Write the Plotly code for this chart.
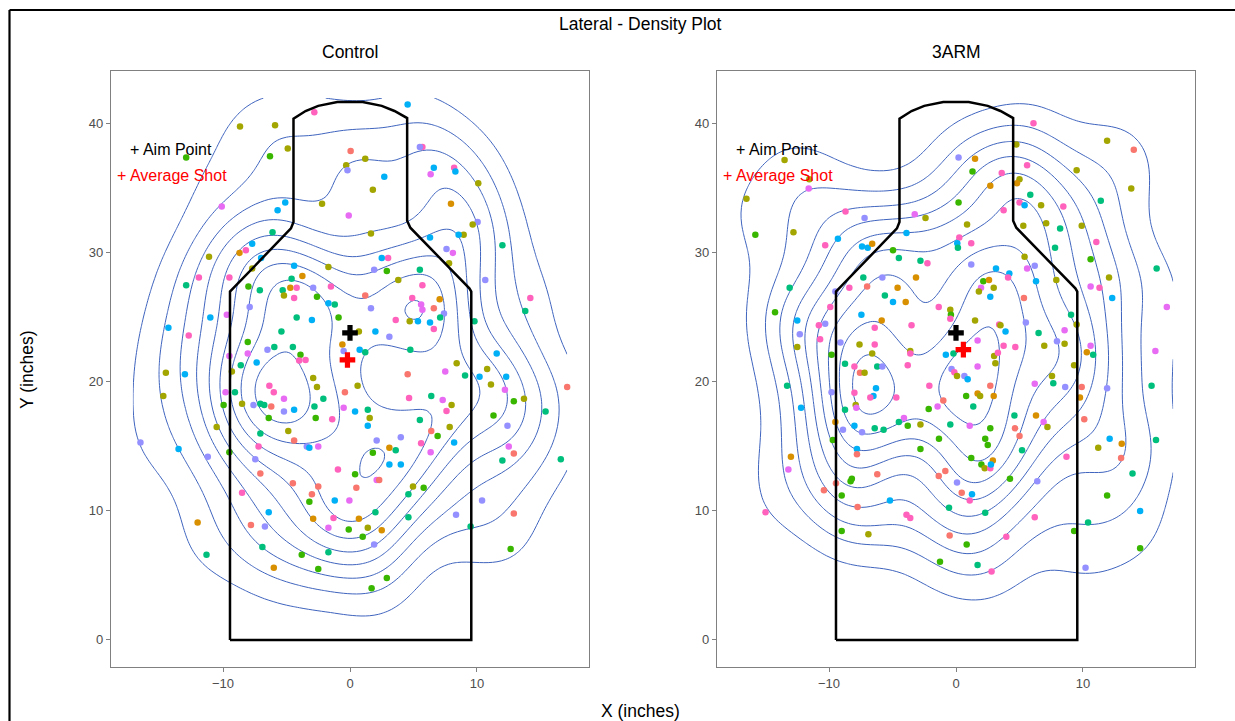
import numpy as np
import plotly.graph_objects as go

# ---------------- data ----------------
# colour codes per shot (shooter): s salmon, o orange, v olive, g green, t teal,
# c cyan, l lavender, p purple, k pink
ctrl_x = [
    4.54, -2.81, -8.66, -5.9, -4.9, -6.3, -12.9, 0.05, 5.7, 5.5,
    -0.3, -0.2, 1.2, 2.7, 1.8, 6.6, 8.2, 8.3, 6.35, 10.1,
    7.95, -2.2, -0.1, -5.1, -5.7, -10.1, -6.1, 10.05, 9.66, 8.95,
    8.55, 12.0, 6.3, 1.65, -11.1, -8.7, -8.2, -7.7, -11.9, -9.5,
    -7.0, -7.7, -12.9, -8.0, -7.1, -4.4, -4.6, -3.75, -4.7, -4.2,
    -5.3, -5.2, -4.4, -2.9, -2.6, -1.7, -1.5, 2.5, 3.0, 2.9,
    1.9, 3.8, 5.5, 5.7, 4.9, 1.2, 1.65, 5.6, 5.7, 7.06,
    6.6, 7.6, 8.1, 7.8, 7.4, 7.1, 6.3, 6.6, 5.35, 4.7,
    3.6, 3.1, 2.0, 0.7, 10.65, 14.2, 13.8, 9.8, 11.55, -14.3,
    -12.7, -11.0, -9.7, -7.9, -4.2, -3.0, -5.4, -1.7, -1.2, -0.9,
    -8.05, -0.6, 0.76, 1.2, 4.75, -5.96, -4.5, -3.9, -6.5, -9.5,
    -8.05, -8.6, -4.0, -3.5, -7.35, -0.5, -14.5, -13.0, -14.7, -9.3,
    -9.8, -9.06, -9.95, -8.5, -7.6, -7.06, -6.75, -6.2, -6.35, -6.0,
    -5.2, -5.2, -4.4, -6.4, -2.9, -2.6, -2.1, -2.8, -2.7, -0.4,
    -0.5, -1.4, 0.4, 0.6, 1.4, 1.55, 1.4, -4.86, -7.06, -4.4,
    -10.5, -9.5, -7.2, -3.4, -3.2, -2.5, -7.46, -16.5, -13.5, -11.2,
    -7.06, -8.5, -4.5, -3.0, -2.5, -3.2, -6.4, -7.8, -6.7, -12.0,
    -11.3, -6.9, -6.0, -3.8, -2.5, -1.7, -2.9, -1.7, -1.3, -0.95,
    0.4, 0.5, -1.2, -0.05, -0.1, 0.7, 1.4, 1.0, 2.0, 2.5,
    1.9, 2.9, 1.7, 2.1, 2.3, 2.1, 1.8, 3.1, 3.6, 3.1,
    4.0, 4.0, 4.96, 4.6, 5.8, 4.6, 5.6, 6.35, 6.4, 6.9,
    8.2, 7.85, 5.5, 6.4, 7.3, 7.6, 8.0, 4.65, 4.54, 7.5,
    8.4, 9.06, 10.2, 10.8, 12.3, 11.1, 12.2, 12.9, 13.7, 11.3,
    15.4, 17.1, 12.4, 12.5, 12.9, 12.0, 16.6, 10.4, 8.35, 12.9,
    9.5, 12.65,
]
ctrl_y = [
    41.5, 40.9, 39.8, 39.9, 38.1, 37.5, 37.4, 37.9, 38.2, 38.2,
    36.8, 36.4, 37.3, 35.9, 34.9, 36.6, 36.6, 36.3, 36.1, 35.4,
    33.8, 33.8, 32.9, 33.9, 33.3, 33.6, 31.6, 32.4, 32.2, 31.4,
    31.4, 30.6, 31.2, 31.5, 29.7, 30.0, 30.2, 30.7, 28.1, 28.1,
    29.6, 28.8, 27.5, 27.4, 27.1, 29.0, 28.0, 28.2, 27.3, 27.3,
    27.1, 26.7, 26.5, 27.3, 26.6, 28.9, 27.4, 29.6, 29.6, 28.6,
    28.7, 27.9, 28.7, 27.5, 26.5, 26.7, 25.7, 26.0, 25.6, 26.4,
    25.7, 30.3, 30.0, 29.2, 25.3, 25.0, 24.6, 24.1, 24.7, 24.7,
    24.8, 23.5, 23.9, 23.9, 27.9, 26.5, 25.5, 24.7, 22.2, 24.2,
    23.6, 25.0, 25.2, 25.8, 25.0, 24.8, 23.9, 26.1, 26.0, 25.0,
    23.1, 22.9, 22.5, 22.3, 22.5, 22.7, 22.7, 22.1, 22.5, 22.0,
    22.2, 21.3, 21.65, 21.7, 21.5, 22.4, 20.7, 20.6, 18.9, 20.8,
    19.2, 19.2, 18.2, 18.3, 18.2, 18.3, 18.2, 18.1, 19.7, 19.2,
    18.7, 17.7, 17.85, 17.2, 20.3, 19.6, 18.7, 18.1, 17.2, 19.2,
    18.0, 17.1, 17.7, 19.7, 17.85, 17.2, 16.6, 16.2, 16.0, 15.45,
    16.5, 14.55, 15.0, 15.0, 14.9, 15.0, 14.0, 15.3, 14.8, 14.2,
    12.9, 11.4, 12.15, 11.3, 11.9, 10.7, 9.9, 8.9, 8.8, 9.1,
    6.6, 7.2, 5.6, 6.6, 5.5, 6.8, 9.4, 8.7, 9.45, 13.2,
    12.85, 11.8, 10.8, 10.8, 8.55, 9.4, 8.7, 8.0, 9.9, 8.5,
    7.4, 4.8, 4.0, 12.4, 12.4, 15.45, 14.5, 14.9, 14.7, 13.6,
    13.6, 15.7, 11.9, 11.3, 11.8, 9.5, 15.25, 14.55, 16.2, 15.8,
    15.3, 16.5, 17.05, 18.9, 18.6, 17.75, 18.2, 18.75, 20.6, 20.8,
    21.45, 20.5, 20.4, 21.0, 20.4, 19.8, 19.4, 18.5, 18.7, 17.4,
    17.7, 19.6, 16.6, 15.0, 14.45, 13.9, 14.0, 10.8, 9.7, 9.8,
    8.8, 7.05,
]
ctrl_grp = (
    "ckvvvggskl" "vlvcvckcpv" "ovpccptlvv" "ctcvvokckk" "cvtgtctook"
    "tvklgvkckg" "lvtkkslppo" "slpvltckcv" "klcvlkttcc" "kcpltctctg"
    "gocttttglp" "ptkkclvcvv" "ptgvlttskk" "plcgvvttgs" "pkcvtvcvts"
    "vgklcpllcl" "sksssgcslo" "ttoggtopkk" "gscpgovgto" "lggpslgotc"
    "clvtgtkpsg" "cvttpkvksp" "vtcvcvpgvg" "tslpsttlls" "tg"
)

arm_x = [
    6.1, 11.9, 14.0, 4.75, 0.2, 1.5, 5.6, 1.3, 3.6, 9.5,
    13.8, 5.0, 4.8, 2.7, 5.85, 5.0, 5.4, 6.7, 8.45, 11.4,
    0.2, 3.75, -3.25, -2.4, -8.7, -7.2, -11.55, -11.6, -13.5, -16.5,
    -15.8, -12.8, 5.3, 7.1, 8.2, 9.9, 11.05, 7.8, 10.6, 15.8,
    0.87, 0.26, 1.2, 0.1, 0.15, -3.9, -9.3, -10.3, -7.4, -6.95,
    -6.6, -4.96, -4.5, -2.8, -2.25, 5.4, 1.2, 3.15, 4.2, 4.1,
    5.6, 6.2, 6.3, 7.9, 12.05, 10.6, 11.3, 12.3, 16.6, 2.15,
    2.6, 2.97, 1.97, 1.8, 2.7, 5.35, -5.8, -3.15, -7.3, -7.0,
    -4.6, -8.4, -9.5, -13.1, -5.6, -4.96, -3.96, -1.36, -0.45, -0.4,
    -0.45, 1.5, -9.9, -14.25, -12.5, -10.8, -10.3, -12.3, -10.7, -9.1,
    -12.5, -7.45, -5.85, -6.4, -3.5, -7.6, -6.4, -3.6, 3.4, 3.5,
    3.9, 5.5, 6.5, 8.55, 9.06, 9.5, 7.95, 8.55, 6.95, 10.6,
    10.3, 10.8, 15.7, 1.7, 3.75, -0.8, -0.2, 3.0, -6.6, -9.8,
    3.1, -3.8, -8.74, -8.0, -7.56, -7.2, -6.2, -5.8, -0.35, -0.13,
    0.08, 0.66, 0.92, 1.7, -13.3, -12.2, -9.8, -8.0, -6.3, -6.5,
    -6.75, -7.9, -7.85, -8.74, -4.7, -2.1, -1.0, -1.45, -2.15, 0.8,
    1.7, 1.9, 1.36, 2.7, 2.97, 6.2, 7.56, 7.66, 8.6, 9.9,
    9.76, 11.9, 15.4, -9.5, -9.7, -8.9, -8.0, -7.4, -6.4, -5.7,
    -4.1, -4.5, -3.8, -2.8, -1.34, -2.8, -0.45, 1.08, 2.7, 2.3,
    2.5, 4.6, 4.65, 5.0, 5.2, 6.3, 6.9, 7.2, 9.3, 10.1,
    12.1, 11.2, 13.05, 13.0, 15.75, 8.7, 6.4, 4.25, 13.9, 11.9,
    14.5, 14.5, 10.4, 10.2, 9.3, 6.2, 3.96, 2.3, 0.84, -1.26,
    1.7, 2.8, -0.5, -0.55, 1.08, 1.26, 0.45, 0.08, -0.84, -1.36,
    1.2, 2.0, 2.26, 2.7, 2.9, 2.75, -3.9, -3.6, -5.2, -6.2,
    -7.75, -8.2, -8.3, -9.45, -10.4, -9.0, -9.0, -6.9, -13.0, -13.2,
    -15.0, -7.8, -7.8, 4.67, 3.3, -3.6,
]
arm_y = [
    40.05, 38.7, 38.0, 38.4, 37.4, 37.3, 36.8, 36.3, 36.2, 36.4,
    35.0, 35.7, 35.4, 35.2, 34.5, 33.9, 33.7, 33.7, 33.6, 34.05,
    33.9, 33.3, 33.0, 32.7, 33.2, 32.7, 35.7, 35.0, 37.2, 34.2,
    31.4, 31.6, 32.1, 32.3, 31.9, 32.1, 30.85, 30.4, 29.5, 28.8,
    32.2, 31.2, 30.75, 30.75, 30.4, 31.55, 31.1, 30.6, 30.5, 30.4,
    30.7, 30.2, 29.6, 29.4, 29.2, 29.7, 29.1, 28.8, 28.4, 28.1,
    28.8, 29.0, 27.8, 27.9, 28.1, 27.4, 27.3, 26.5, 25.8, 27.8,
    27.9, 27.3, 27.3, 27.0, 26.6, 26.5, 28.1, 28.1, 28.1, 27.4,
    27.3, 27.3, 27.0, 27.3, 26.7, 26.2, 26.2, 25.8, 25.6, 25.2,
    24.9, 24.75, 25.8, 25.4, 24.75, 24.4, 24.5, 23.7, 23.3, 23.05,
    22.7, 25.2, 24.75, 24.2, 24.4, 22.9, 22.9, 22.4, 24.45, 24.4,
    23.9, 24.6, 23.8, 24.0, 25.2, 24.45, 23.15, 22.95, 22.8, 22.8,
    22.3, 22.1, 22.4, 23.2, 22.8, 22.1, 22.2, 22.0, 22.2, 22.1,
    21.45, 21.3, 21.4, 21.2, 20.7, 20.7, 21.2, 21.2, 21.0, 20.75,
    20.45, 20.45, 20.2, 21.2, 19.7, 18.0, 19.2, 19.15, 19.5, 18.9,
    18.8, 18.2, 18.0, 17.85, 18.8, 19.7, 18.55, 18.1, 17.9, 18.9,
    19.1, 18.9, 18.1, 19.7, 18.9, 19.85, 20.45, 19.9, 19.6, 19.6,
    18.8, 19.5, 19.7, 16.9, 15.5, 16.3, 16.6, 16.1, 16.4, 16.3,
    17.2, 16.9, 16.6, 16.7, 15.6, 14.8, 16.7, 16.6, 16.4, 15.6,
    15.1, 17.4, 16.4, 15.8, 14.7, 17.4, 16.9, 16.5, 21.3, 17.1,
    15.6, 14.9, 15.2, 14.1, 15.5, 14.2, 12.3, 12.5, 12.9, 11.2,
    10.0, 7.1, 9.1, 5.6, 8.45, 9.5, 8.0, 9.85, 7.4, 6.05,
    5.8, 5.3, 8.1, 10.25, 10.8, 11.3, 11.4, 12.2, 13.1, 12.7,
    14.1, 13.6, 13.3, 13.3, 13.9, 13.6, 9.7, 9.45, 10.8, 12.85,
    10.3, 12.5, 12.3, 12.15, 11.6, 11.2, 8.45, 8.2, 14.2, 13.2,
    9.9, 14.8, 14.4, 22.7, 22.25, 22.2,
]
arm_grp = (
    "kvsvlokgkv" "vvootkcvkt" "gkpvklvpvv" "gvvvtvktgt" "vkkctcckcc"
    "ogttkvlcck" "plcvvpkcpg" "ovpvcslots" "oklttcokvg" "kvkgckllkl"
    "vcokkvkvkv" "cltptvlvvp" "otppkctvvg" "vktksvtllk" "vlcptclkcc"
    "kvptkkspgg" "ovtsopvtls" "oltoglcltt" "ptgvggtpgg" "gtsstopvvs"
    "cvostklgtg" "cgtlgkktgg" "tkstkcslss" "ggvkockkcs" "sggssggvop"
    "kcskkk"
)

panels = ["Control", "3ARM"]
aim_point = (0.0, 23.8)
avg_shot = {"Control": (-0.2, 21.7), "3ARM": (0.58, 22.5)}

# target silhouette outline (inches)
sil_x = [-9.45, -9.45, -9.15, -4.65, -4.45, -4.45, -3.5, -2.5, -1.0, 1.0, 2.5, 3.5,
         4.5, 4.5, 4.75, 9.4, 9.55, 9.55, -9.45]
sil_y = [0.0, 27.0, 27.3, 31.9, 32.4, 40.4, 41.0, 41.4, 41.7, 41.7, 41.4, 41.0,
         40.45, 32.5, 31.95, 27.25, 27.0, 0.0, 0.0]

x_ticks = [-10, 0, 10]
y_ticks = [0, 10, 20, 30, 40]

# ---------------- style ----------------
palette = {"s": "#F8766D", "o": "#D89000", "v": "#A3A500", "g": "#39B600",
           "t": "#00BF7D", "c": "#00B0F6", "l": "#9590FF", "p": "#E76BF3",
           "k": "#FF62BC"}
CONTOUR_COLOR = "#3F64BE"
FONT = "Liberation Sans, Arial, sans-serif"
W, H = 1235, 721
ML, MR, MT, MB = 111, 40, 71, 54
PW, PH = W - ML - MR, H - MT - MB


def px2paper(px, py):
    return (px - ML) / PW, 1 - (py - MT) / PH


# ---------------- density (like stat_density_2d) ----------------
def bw_nrd(v):
    q1, q3 = np.percentile(v, [25, 75])
    return 4 * 1.06 * min(np.std(v, ddof=1), (q3 - q1) / 1.34) * len(v) ** (-0.2)


def kde2d(x, y, lims, n=100):
    x = np.asarray(x, float)
    y = np.asarray(y, float)
    gx = np.linspace(lims[0], lims[1], n)
    gy = np.linspace(lims[2], lims[3], n)
    hx, hy = bw_nrd(x) / 4, bw_nrd(y) / 4
    kx = np.exp(-0.5 * ((gx[:, None] - x[None, :]) / hx) ** 2) / np.sqrt(2 * np.pi)
    ky = np.exp(-0.5 * ((gy[:, None] - y[None, :]) / hy) ** 2) / np.sqrt(2 * np.pi)
    z = kx @ ky.T / (len(x) * hx * hy)
    return gx, gy, z.T


def pretty_unit(lo, hi, n=10):
    cell = (hi - lo) / n
    U = 10 ** np.floor(np.log10(cell))
    unit = U
    if 2 * U - cell < 1.5 * (cell - unit):
        unit = 2 * U
        if 5 * U - cell < 2.75 * (cell - unit):
            unit = 5 * U
            if 10 * U - cell < 1.5 * (cell - unit):
                unit = 10 * U
    return unit


lims = (-17.1, 17.1, 0.0, 42.0)
dens = {"Control": kde2d(ctrl_x, ctrl_y, lims), "3ARM": kde2d(arm_x, arm_y, lims)}
zmin = min(d[2].min() for d in dens.values())
zmax = max(d[2].max() for d in dens.values())
unit = pretty_unit(zmin, zmax)
lev_end = np.floor(zmax / unit) * unit

fig = go.Figure()
data_sets = {"Control": (ctrl_x, ctrl_y, ctrl_grp), "3ARM": (arm_x, arm_y, arm_grp)}
for i, name in enumerate(panels):
    xa = "x" if i == 0 else "x2"
    ya = "y" if i == 0 else "y2"
    gx, gy, z = dens[name]
    fig.add_trace(go.Contour(
        x=gx, y=gy, z=z, xaxis=xa, yaxis=ya, autocontour=False,
        contours=dict(start=unit, end=lev_end, size=unit, coloring="lines"),
        line=dict(width=1), colorscale=[[0, CONTOUR_COLOR], [1, CONTOUR_COLOR]],
        showscale=False, hoverinfo="skip"))
    px_, py_, grp = data_sets[name]
    fig.add_trace(go.Scatter(
        x=px_, y=py_, mode="markers", xaxis=xa, yaxis=ya,
        marker=dict(size=6.5, color=[palette[g] for g in grp], line=dict(width=0)),
        showlegend=False))
    fig.add_trace(go.Scatter(
        x=sil_x, y=sil_y, mode="lines", xaxis=xa, yaxis=ya,
        line=dict(color="black", width=2.5), showlegend=False, hoverinfo="skip"))
    fig.add_trace(go.Scatter(
        x=[aim_point[0]], y=[aim_point[1]], mode="markers", xaxis=xa, yaxis=ya,
        marker=dict(symbol="cross", size=13, color="black"), showlegend=False))
    fig.add_trace(go.Scatter(
        x=[avg_shot[name][0]], y=[avg_shot[name][1]], mode="markers", xaxis=xa, yaxis=ya,
        marker=dict(symbol="cross", size=13, color="#FF0000"), showlegend=False))

axis_common = dict(showline=True, mirror=True, linecolor="#808080", linewidth=1.3,
                   ticks="outside", ticklen=4, tickcolor="#808080", tickwidth=1.2,
                   showgrid=False, zeroline=False,
                   tickfont=dict(family=FONT, size=13, color="#4D4D4D"))
d1 = px2paper(589, 0)[0]
d2 = px2paper(717, 0)[0]
fig.update_layout(
    width=W, height=H, margin=dict(l=ML, r=MR, t=MT, b=MB),
    paper_bgcolor="white", plot_bgcolor="white", showlegend=False,
    font=dict(family=FONT),
    xaxis=dict(domain=[0, d1], range=[-18.82, 18.82], tickvals=x_ticks, anchor="y", **axis_common),
    yaxis=dict(domain=[0, 1], range=[-2.1, 44.1], tickvals=y_ticks, anchor="x", **axis_common),
    xaxis2=dict(domain=[d2, 1], range=[-18.82, 18.82], tickvals=x_ticks, anchor="y2", **axis_common),
    yaxis2=dict(domain=[0, 1], range=[-2.1, 44.1], tickvals=y_ticks, anchor="x2", **axis_common),
)

ann = []
def add_text(text, px, py, size, color="black", angle=0):
    xp, yp = px2paper(px, py)
    ann.append(dict(text=text, x=xp, y=yp, xref="paper", yref="paper", showarrow=False,
                    xanchor="center", yanchor="middle", textangle=angle,
                    font=dict(family=FONT, size=size, color=color)))

add_text("Lateral - Density Plot", 640, 24, 17.5)
add_text("Control", 350, 52, 17.5)
add_text("3ARM", 956, 52, 17.5)
add_text("X (inches)", 640, 711, 17.5)
add_text("Y (inches)", 27, 370, 17.5, angle=-90)

for i, name in enumerate(panels):
    xr = "x" if i == 0 else "x2"
    yr = "y" if i == 0 else "y2"
    ann.append(dict(text="+ Aim Point", x=-14.1, y=38.0, xref=xr, yref=yr, showarrow=False,
                    xanchor="center", yanchor="middle",
                    font=dict(family=FONT, size=16, color="black")))
    ann.append(dict(text="+ Average Shot", x=-14.0, y=36.0, xref=xr, yref=yr, showarrow=False,
                    xanchor="center", yanchor="middle",
                    font=dict(family=FONT, size=16, color="#FF0000")))
fig.update_layout(annotations=ann)

# outer frame (top and left edges of the exported figure border)
lx, _ = px2paper(9.5, 0)
rx, _ = px2paper(W, 0)
_, ty = px2paper(0, 10)
_, by = px2paper(0, H)
fig.add_shape(type="line", xref="paper", yref="paper", x0=lx, x1=lx, y0=by, y1=ty,
              line=dict(color="black", width=2.2))
fig.add_shape(type="line", xref="paper", yref="paper", x0=lx, x1=rx, y0=ty, y1=ty,
              line=dict(color="black", width=2.2))

fig.write_html("out.html")
